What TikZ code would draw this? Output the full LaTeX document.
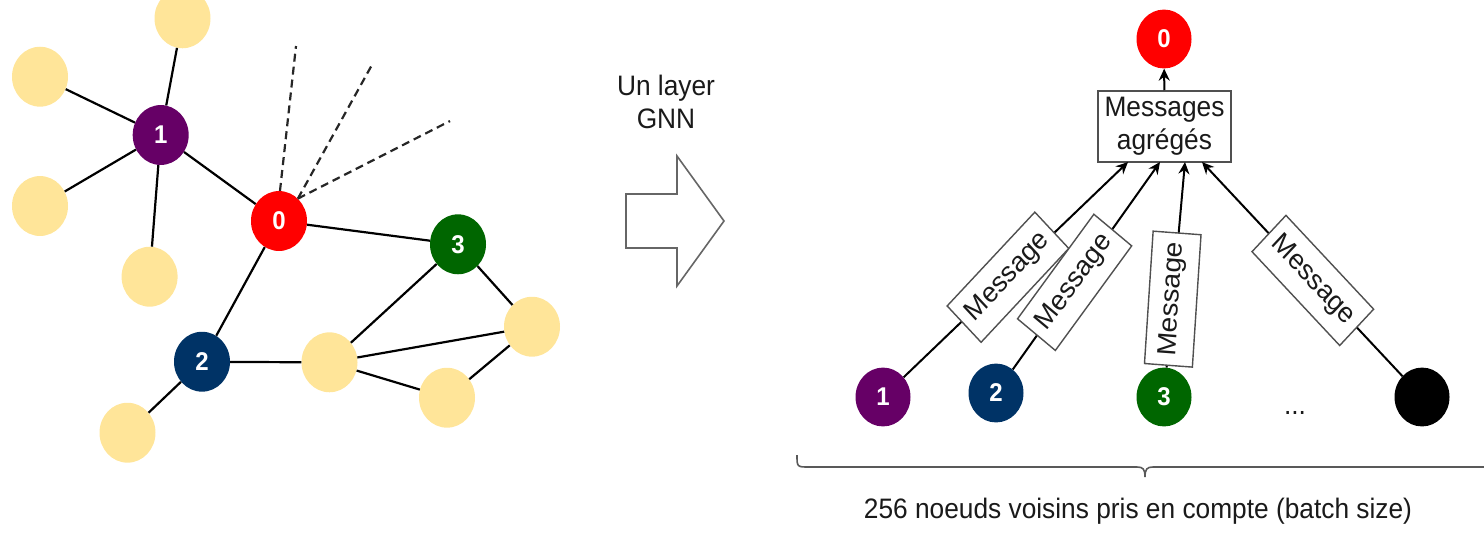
\documentclass[tikz,border=0pt]{standalone}
\usepackage{fontspec}
\setmainfont{Liberation Sans}
\usetikzlibrary{arrows.meta}
\definecolor{ylw}{HTML}{FFE599}
\definecolor{purp}{HTML}{660066}
\definecolor{rd}{HTML}{FF0000}
\definecolor{grn}{HTML}{006600}
\definecolor{navy}{HTML}{003366}
\definecolor{txt}{HTML}{1A1A1A}
\definecolor{outl}{HTML}{505050}
\newcommand\lblfont{\fontsize{26.3pt}{30.5pt}\selectfont}
\newcommand\digfont{\fontsize{24pt}{28pt}\selectfont\bfseries}
\begin{document}
\begin{tikzpicture}[x=1pt, y=-0.934579pt, yscale=1.07,
  every node/.append style={transform shape},
  ynode/.style={circle, fill=ylw, minimum size=56pt, inner sep=0pt},
  gn/.style={circle, minimum size=56pt, inner sep=0pt, text=white, font=\digfont},
  gnr/.style={circle, minimum size=55pt, inner sep=0pt, text=white, font=\digfont},
  edge/.style={draw=black, line width=2.2pt},
  dashedge/.style={draw=black!85, line width=2.2pt, dash pattern=on 8pt off 5pt},
  arr/.style={draw=black, line width=2pt, -{Stealth[length=12pt,width=11pt,inset=4pt]}},
  lbl/.style={font=\lblfont, text=txt, inner sep=0pt},
  aggbox/.style={draw=outl, fill=white, line width=1.4pt, minimum width=133pt, minimum height=66.4pt, inner sep=0pt, align=center, font=\lblfont, text=txt},
  msg/.style={draw=outl, fill=white, line width=1.4pt, minimum width=124pt, minimum height=48pt, inner sep=0pt, font=\lblfont, text=txt},
  blockarrow/.style={draw=black!60, line width=1.6pt, line join=miter},
  bracestyle/.style={draw=black!65, line width=1.6pt}
]
\useasboundingbox (0,0) rectangle (1484,538);
\clip (0,0) rectangle (1484,538);

% ---------- left graph ----------
\node[ynode] (ytop) at (182.5,18.3) {};
\node[ynode] (yul) at (40,76.7) {};
\node[gn, fill=purp] (n1) at (160.7,135) {1};
\node[ynode] (yl) at (40,206) {};
\node[ynode] (ylow) at (149.6,276.7) {};
\node[gn, fill=rd] (n0) at (279,221) {0};
\node[gn, fill=grn] (n3) at (458,244.3) {3};
\node[ynode] (yr) at (532,326.7) {};
\node[gn, fill=navy] (n2) at (202,361.7) {2};
\node[ynode] (ymid) at (329.5,362.3) {};
\node[ynode] (ylr) at (447,397.7) {};
\node[ynode] (ybl) at (127.5,432.7) {};

\draw[edge] (ytop) -- (n1);
\draw[edge] (yul) -- (n1);
\draw[edge] (yl) -- (n1);
\draw[edge] (ylow) -- (n1);
\draw[edge] (n1) -- (n0);
\draw[edge] (n0) -- (n3);
\draw[edge] (n0) -- (n2);
\draw[edge] (n2) -- (ybl);
\draw[edge] (n2) -- (ymid);
\draw[edge] (ymid) -- (n3);
\draw[edge] (ymid) -- (yr);
\draw[edge] (ymid) -- (ylr);
\draw[edge] (ylr) -- (yr);
\draw[edge] (n3) -- (yr);

\coordinate (d1) at (296,46);
\coordinate (d2) at (373,63);
\coordinate (d3) at (450,121);
\draw[dashedge] (n0.88) -- (d1);
\draw[dashedge] (n0.48) -- (d2);
\draw[dashedge] (n0.48) -- (d3);

% ---------- middle ----------
\node[lbl, align=center] (gnn) at (666,102) {Un layer\\GNN};
\draw[blockarrow] (626,194) -- (677,194) -- (677,156) -- (724,221) -- (677,286) -- (677,248) -- (626,248) -- cycle;

% ---------- right ----------
\node[gnr, fill=rd] (r0) at (1164,39) {0};
\node[aggbox] (agg) at (1164.5,126.5) {Messages\\agrégés};
\node[gnr, fill=purp] (r1) at (883,397) {1};
\node[gnr, fill=navy] (r2) at (996,393) {2};
\node[gnr, fill=grn] (r3) at (1164,397) {3};
\node[gnr, fill=black] (rb) at (1422,397) {};
\node[lbl] (dots) at (1295,413) {...};

\coordinate (a1) at (1128,162);
\coordinate (a2) at (1160,162);
\coordinate (a3) at (1185,162);
\coordinate (a4) at (1202,162);

\draw[arr] (agg) -- (r0);
\draw[arr] (r1) -- node[msg, pos=0.465, rotate=45] {Message} (a1);
\draw[arr] (r2) -- node[msg, pos=0.42, rotate=52] {Message} (a2);
\draw[arr] (r3) -- node[msg, pos=0.333, rotate=86] {Message} (a3);
\draw[arr] (rb) -- node[msg, pos=0.447, rotate=-45] {Message} (a4);

\draw[bracestyle] (797,455) .. controls (797,467) .. (809,467) -- (1137,467)
  .. controls (1143,467) and (1145,469) .. (1145,477)
  .. controls (1145,469) and (1147,467) .. (1153,467) -- (1481,467)
  .. controls (1493,467) .. (1493,455);
\node[lbl, anchor=base] (cap) at (1138,518) {256 noeuds voisins pris en compte (batch size)};
\end{tikzpicture}
\end{document}
